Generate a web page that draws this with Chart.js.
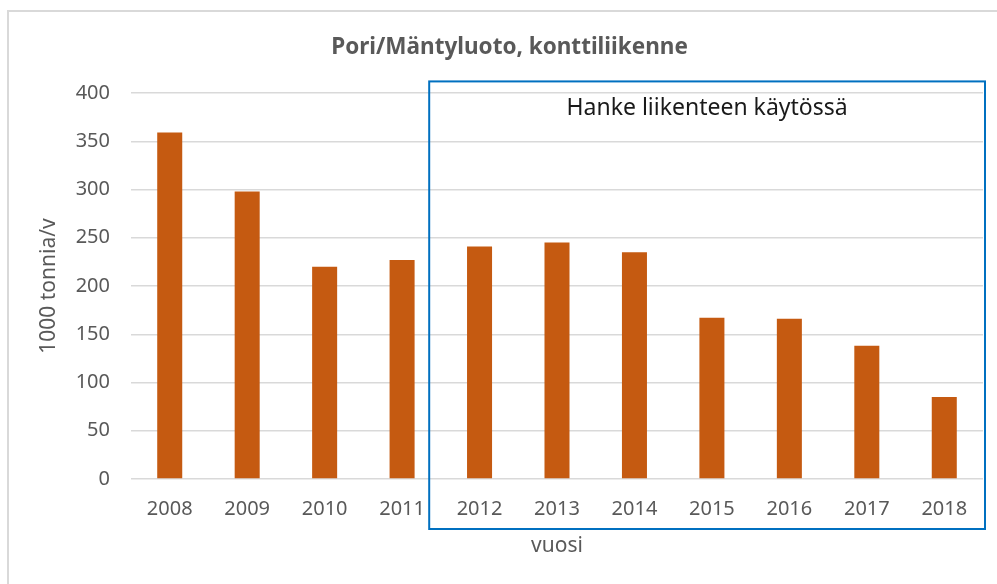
<!DOCTYPE html>
<html>
<head>
<meta charset="utf-8">
<script src="https://cdn.jsdelivr.net/npm/chart.js@4/dist/chart.umd.min.js"></script>
<style>
  html, body { margin: 0; padding: 0; background: #fff; }
  #wrap { width: 997px; height: 584px; position: relative; }
</style>
</head>
<body>
<div id="wrap"><canvas id="chart"></canvas></div>
<script>
const years = ["2008", "2009", "2010", "2011", "2012", "2013", "2014", "2015", "2016", "2017", "2018"];
const tonnes = [359, 298, 220, 227, 241, 245, 235, 167, 166, 138, 85];
const yMin = 0, yMax = 400, yStep = 50;
const boxLabel = "Hanke liikenteen käytössä";

const FONT = "'Noto Sans', 'Open Sans', sans-serif";
const GRAY = "#595959";

// outer frame + "Hanke" box
const decor = {
  id: "decor",
  beforeDraw(chart) {
    const ctx = chart.ctx;
    ctx.save();
    ctx.strokeStyle = "#d9d9d9";
    ctx.lineWidth = 2;
    ctx.beginPath();
    ctx.moveTo(8, chart.height);
    ctx.lineTo(8, 11);
    ctx.lineTo(chart.width, 11);
    ctx.stroke();
    ctx.restore();
  },
  afterDraw(chart) {
    const { ctx, chartArea, scales: { x, y } } = chart;
    const left = x.getPixelForValue(3.35);
    const right = chartArea.right + 2;
    const top = y.getPixelForValue(412);
    const bottom = chartArea.bottom + 50;
    ctx.save();
    ctx.strokeStyle = "#0070c0";
    ctx.lineWidth = 2;
    ctx.strokeRect(left, top, right - left, bottom - top);
    ctx.fillStyle = "#1a1a1a";
    ctx.font = "23px " + FONT;
    ctx.textAlign = "center";
    ctx.textBaseline = "middle";
    ctx.fillText(boxLabel, (left + right) / 2, top + 27);
    ctx.restore();
  }
};

new Chart(document.getElementById("chart"), {
  type: "bar",
  data: {
    labels: years,
    datasets: [{
      data: tonnes,
      backgroundColor: "#c55a11",
      barPercentage: 0.323,
      categoryPercentage: 1
    }]
  },
  options: {
    responsive: true,
    maintainAspectRatio: false,
    animation: false,
    layout: { padding: { left: 36, right: 14, top: 0, bottom: 0 } },
    plugins: {
      legend: { display: false },
      tooltip: { enabled: false },
      title: {
        display: true,
        text: "Pori/Mäntyluoto, konttiliikenne",
        color: GRAY,
        font: { family: FONT, size: 22.5, weight: "bold" },
        padding: { top: 34.5, bottom: 31.5 }
      }
    },
    scales: {
      x: {
        grid: { display: false },
        border: { display: false },
        ticks: { color: GRAY, font: { family: FONT, size: 20 }, padding: 10 },
        title: {
          display: true,
          text: "vuosi",
          color: GRAY,
          font: { family: FONT, size: 21 },
          padding: { top: 0, bottom: 25 }
        },
        afterFit(scale) { scale.height = 105; }
      },
      y: {
        min: yMin,
        max: yMax,
        grid: { color: "#d9d9d9", lineWidth: 1.5, drawTicks: false },
        border: { display: false },
        ticks: { stepSize: yStep, color: GRAY, font: { family: FONT, size: 20 }, padding: 21 },
        title: {
          display: true,
          text: "1000 tonnia/v",
          color: GRAY,
          font: { family: FONT, size: 21 },
          padding: { top: 0, bottom: 0 }
        },
        afterFit(scale) { scale.width = 95; }
      }
    }
  },
  plugins: [decor]
});
</script>
</body>
</html>
